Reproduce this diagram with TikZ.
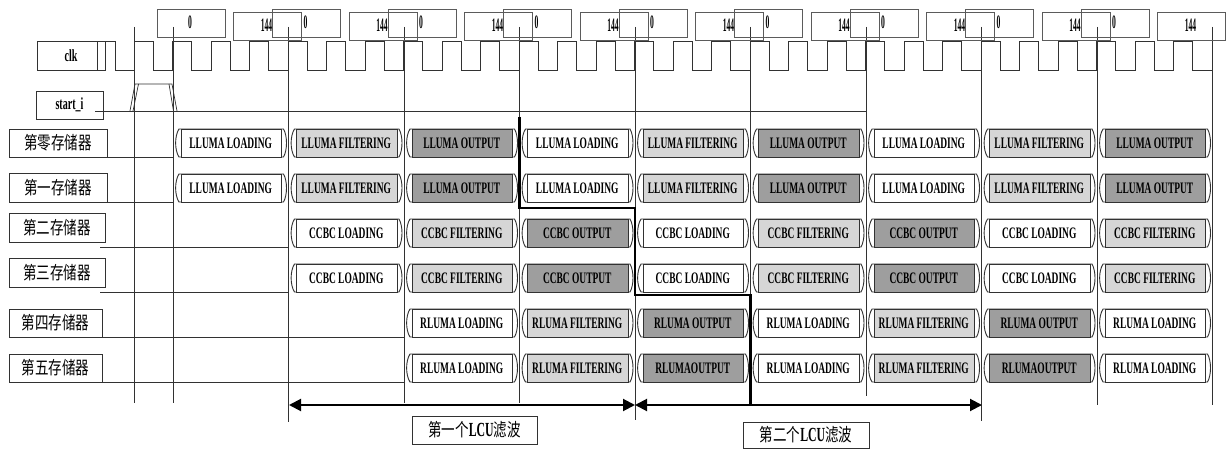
\documentclass[tikz,border=0pt]{standalone}
\usepackage{fontspec}
\setmainfont{Liberation Serif}
\newfontfamily\cellfont[FakeStretch=0.59]{Liberation Serif}
\newfontfamily\numfont[FakeStretch=0.40]{Liberation Serif}
\newfontfamily\cjkfont[FakeStretch=0.75]{Noto Sans CJK SC}
\usetikzlibrary{arrows.meta}
\definecolor{outfill}{RGB}{158,158,158}
\definecolor{filtfill}{RGB}{214,214,214}
\definecolor{lineclr}{RGB}{50,50,50}
\tikzset{
  vline/.style={draw=lineclr, line width=0.6pt},
  wave/.style={draw=lineclr, line width=0.7pt},
  cbox/.style={draw=lineclr!80, line width=0.6pt},
  celledge/.style={draw=lineclr, line width=0.9pt},
  celltext/.style={font=\cellfont\bfseries\fontsize{16}{16}\selectfont, inner sep=0pt},
  numtext/.style={font=\numfont\bfseries\fontsize{19}{19}\selectfont, inner sep=0pt},
  sigbox/.style={draw=lineclr, line width=0.7pt, font=\cellfont\bfseries\fontsize{17}{17}\selectfont, inner sep=0pt},
  rowbox/.style={draw=lineclr, line width=0.7pt, font=\cjkfont\fontsize{18}{18}\selectfont, inner sep=0pt},
  stepline/.style={draw=black, line width=2.2pt},
  lcuarrow/.style={draw=black, line width=2pt, {Triangle[length=12pt,width=12pt]}-{Triangle[length=12pt,width=12pt]}},
}
\newcommand{\lcu}{{\cellfont\bfseries\fontsize{20}{20}\selectfont LCU}}
\newcommand{\tcell}[5]{% #1 name, #2 k, #3 baseline, #4 fill, #5 text
  \pgfmathsetmacro\xa{173+115.5*#2}
  \pgfmathsetmacro\xb{\xa+115.5}
  \pgfmathsetmacro\yt{#3-28}
  \pgfmathsetmacro\xm{\xa+57.75}
  \pgfmathsetmacro\ym{#3-14}
  \draw[celledge, fill=white] (\xa+6,\yt) -- (\xb-5,\yt) .. controls (\xb-1,\yt+7) and (\xb-1,#3-7) .. (\xb-5,#3) -- (\xa+6,#3) .. controls (\xa+1.5,#3-7) and (\xa+1.5,\yt+7) .. (\xa+6,\yt) -- cycle;
  \draw[celledge, fill=#4] (\xa+8,\yt) rectangle (\xb-7,#3);
  \node[celltext] (#1) at (\xm,\ym) {#5};
}
\begin{document}
\begin{tikzpicture}[x=1pt, y=-1pt]
\useasboundingbox (0,0) rectangle (1229,449);
\fill[white] (0,0) rectangle (1229,449);

% vertical time lines
\foreach \x/\yb in {134/403, 173/403, 288.5/422, 404/403, 519.5/403, 635/420, 750.5/405, 866/396, 981.5/421, 1097/405, 1212.5/405}
  \draw[vline] (\x,27) -- (\x,\yb);

% counter boxes
\foreach \k in {0,...,8} {
  \pgfmathsetmacro\xs{173+115.5*\k}
  \pgfmathsetmacro\xe{\xs+115.5}
  \draw[cbox] (\xs-16,9) rectangle (\xs+52,37);
  \node[numtext] (z\k) at (\xs+17,22) {0};
  \draw[cbox] (\xe-55,12) rectangle (\xe+13,40);
  \node[numtext] (n\k) at (\xe-22,25) {144};
}

% signal labels
\node[sigbox, minimum width=68pt, minimum height=29pt] (clk) at (71,55.5) {clk};
\node[sigbox, minimum width=67pt, minimum height=28pt] (start) at (69.5,105) {start\_i};

% clock waveform
\draw[wave] (97,70) -- (97,41) -- (115,41) -- (115,70) -- (134,70)
  foreach \m in {0,...,27} { -- ({134+38.5*\m},41) -- ({153.25+38.5*\m},41) -- ({153.25+38.5*\m},70) -- ({172.5+38.5*\m},70) };

% start_i
\draw[wave] (95,111) -- (866,111);
\draw[wave] (130,111) -- (135,84) -- (172,84) -- (177,111);
\draw[wave] (133,111) -- (138.5,84);
\draw[wave] (169,84) -- (173.5,111);

% row labels
\node[rowbox, minimum width=98pt, minimum height=28pt] (r0) at (58,143) {第零存储器};
\node[rowbox, minimum width=98pt, minimum height=29pt] (r1) at (58,187.5) {第一存储器};
\node[rowbox, minimum width=96pt, minimum height=29pt] (r2) at (57,227.5) {第二存储器};
\node[rowbox, minimum width=96pt, minimum height=29pt] (r3) at (57,272.5) {第三存储器};
\node[rowbox, minimum width=93pt, minimum height=28pt] (r4) at (55.5,323) {第四存储器};
\node[rowbox, minimum width=93pt, minimum height=28pt] (r5) at (55.5,368) {第五存储器};

% row base lines
\draw[wave] (93,157) -- (173,157);
\draw[wave] (107,202) -- (173,202);
\draw[wave] (100,247) -- (288.5,247);
\draw[wave] (100,292) -- (288.5,292);
\draw[wave] (100,337) -- (404,337);
\draw[wave] (100,382) -- (404,382);

% rows 0 and 1
\foreach \r/\y in {0/157, 1/202} {
  \foreach \k/\c/\t in {0/white/LLUMA LOADING, 1/filtfill/LLUMA FILTERING, 2/outfill/LLUMA OUTPUT,
                        3/white/LLUMA LOADING, 4/filtfill/LLUMA FILTERING, 5/outfill/LLUMA OUTPUT,
                        6/white/LLUMA LOADING, 7/filtfill/LLUMA FILTERING, 8/outfill/LLUMA OUTPUT}
    {\tcell{c\r-\k}{\k}{\y}{\c}{\t}}
}
% rows 2 and 3
\foreach \r/\y in {2/247, 3/292} {
  \foreach \k/\c/\t in {1/white/CCBC LOADING, 2/filtfill/CCBC FILTERING, 3/outfill/CCBC OUTPUT,
                        4/white/CCBC LOADING, 5/filtfill/CCBC FILTERING, 6/outfill/CCBC OUTPUT,
                        7/white/CCBC LOADING, 8/filtfill/CCBC FILTERING}
    {\tcell{c\r-\k}{\k}{\y}{\c}{\t}}
}
% row 4
\foreach \k/\c/\t in {2/white/RLUMA LOADING, 3/filtfill/RLUMA FILTERING, 4/outfill/RLUMA OUTPUT,
                      5/white/RLUMA LOADING, 6/filtfill/RLUMA FILTERING, 7/outfill/RLUMA OUTPUT,
                      8/white/RLUMA LOADING}
  {\tcell{c4-\k}{\k}{337}{\c}{\t}}
% row 5
\foreach \k/\c/\t in {2/white/RLUMA LOADING, 3/filtfill/RLUMA FILTERING, 4/outfill/RLUMAOUTPUT,
                      5/white/RLUMA LOADING, 6/filtfill/RLUMA FILTERING, 7/outfill/RLUMAOUTPUT,
                      8/white/RLUMA LOADING}
  {\tcell{c5-\k}{\k}{382}{\c}{\t}}

% thick step line
\draw[stepline] (519.5,117) -- (519.5,208) -- (635,208) -- (635,295) -- (750.5,295) -- (750.5,405);

% LCU arrows
\coordinate (A1) at (289,405);
\coordinate (A2) at (635,405);
\coordinate (A3) at (982,405);
\draw[lcuarrow] (A1) -- (A2);
\draw[lcuarrow] (A2) -- (A3);

\node[rowbox, minimum width=125pt, minimum height=28pt] (L1) at (474.5,430) {第一个\lcu 滤波};
\node[rowbox, minimum width=126pt, minimum height=26pt] (L2) at (806,435) {第二个\lcu 滤波};
\end{tikzpicture}
\end{document}
